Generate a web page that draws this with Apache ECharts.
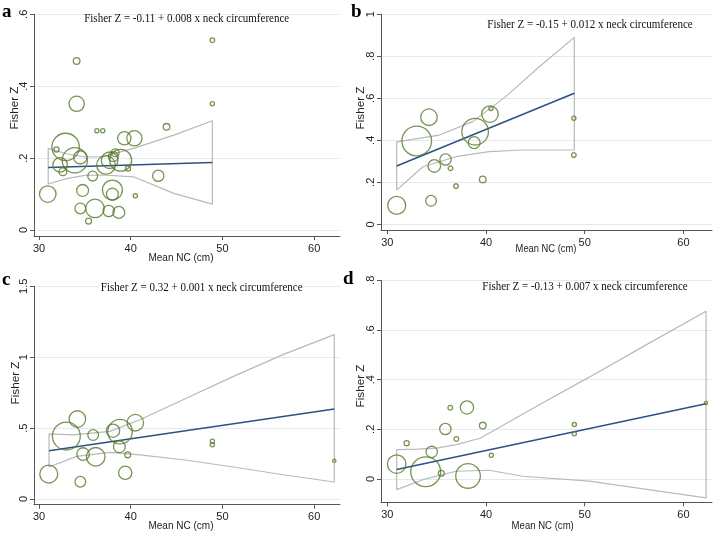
<!DOCTYPE html>
<html lang="en">
<head>
    <meta charset="UTF-8">
    <title>Fisher Z vs mean neck circumference</title>
    <script src="https://cdn.jsdelivr.net/npm/echarts@6/dist/echarts.min.js"></script>
    <style>
        html, body { margin: 0; padding: 0; background: #fff; }
    </style>
</head>
<body>
<div id="container" style="width:716px;height:533px;"></div>
<script>
    // studies: [mean NC, Fisher Z, weight]
    var studiesA = [
        [48.9, 0.528, 5], [48.9, 0.351, 4], [34.1, 0.470, 10], [34.1, 0.351, 53],
        [36.3, 0.276, 4], [36.95, 0.276, 4], [43.9, 0.287, 10], [39.3, 0.255, 40],
        [40.4, 0.255, 53], [31.9, 0.224, 6], [32.9, 0.231, 170], [32.3, 0.181, 48],
        [32.6, 0.162, 14], [33.9, 0.194, 144], [34.5, 0.202, 40], [35.85, 0.150, 22],
        [37.3, 0.181, 78], [37.7, 0.194, 62], [38.1, 0.204, 22], [38.3, 0.215, 14],
        [38.9, 0.194, 109], [39.7, 0.171, 6], [43.0, 0.151, 29], [30.95, 0.100, 62],
        [34.75, 0.110, 32], [38.0, 0.111, 90], [38.0, 0.100, 32], [40.5, 0.095, 4],
        [34.5, 0.060, 26], [36.1, 0.060, 78], [37.6, 0.053, 29], [38.7, 0.049, 32],
        [35.4, 0.025, 8]
    ];
    var studiesB = [
        [34.22, 0.510, 62], [32.98, 0.397, 200], [40.4, 0.525, 62], [40.5, 0.552, 4],
        [38.9, 0.441, 160], [38.8, 0.389, 32], [35.9, 0.309, 29], [34.76, 0.278, 36],
        [36.4, 0.267, 5], [39.67, 0.214, 10], [36.96, 0.182, 5], [34.43, 0.112, 26],
        [30.95, 0.090, 73], [48.9, 0.505, 4], [48.9, 0.330, 5]
    ];
    var studiesC = [
        [34.18, 0.564, 62], [32.98, 0.444, 176], [35.9, 0.451, 26], [38.07, 0.482, 40],
        [38.83, 0.475, 137], [40.5, 0.538, 62], [38.76, 0.369, 32], [34.8, 0.317, 36],
        [36.18, 0.298, 78], [39.67, 0.312, 8], [31.06, 0.176, 73], [34.5, 0.122, 26],
        [39.4, 0.185, 40], [48.9, 0.407, 4], [48.9, 0.383, 4], [62.2, 0.270, 2.5]
    ];
    var studiesD = [
        [38.07, 0.288, 40], [36.38, 0.287, 5], [35.88, 0.201, 29], [39.67, 0.215, 10],
        [36.99, 0.161, 5], [31.96, 0.144, 6], [34.5, 0.109, 29], [30.95, 0.060, 78],
        [33.89, 0.029, 202], [35.47, 0.023, 8], [38.18, 0.012, 137], [40.54, 0.095, 4],
        [48.95, 0.219, 4], [48.95, 0.182, 4], [62.29, 0.306, 2.5]
    ];

    // fitted line end points
    var fitA = [[30.99, 0.174], [48.9, 0.188]];
    var fitB = [[30.95, 0.278], [48.95, 0.624]];
    var fitC = [[31.09, 0.341], [62.2, 0.635]];
    var fitD = [[30.95, 0.038], [62.29, 0.303]];

    // 95% CI limits
    var upperA = [[31, 0.227], [33, 0.212], [35, 0.203], [37, 0.204], [40.3, 0.227], [44.7, 0.264], [48.9, 0.304]];
    var lowerA = [[31, 0.128], [33, 0.143], [35, 0.152], [37, 0.153], [40.3, 0.148], [44.7, 0.102], [48.9, 0.072]];
    var upperB = [[30.95, 0.393], [35.27, 0.425], [38.65, 0.489], [42.0, 0.608], [45.4, 0.750], [48.95, 0.890]];
    var lowerB = [[30.95, 0.163], [33.6, 0.274], [36.96, 0.322], [40.3, 0.346], [43.7, 0.354], [48.95, 0.354]];
    var upperC = [[31.09, 0.460], [33.74, 0.453], [37.74, 0.477], [41.0, 0.559], [45.7, 0.700], [51.2, 0.865], [56.6, 1.018], [62.2, 1.159]];
    var lowerC = [[31.09, 0.226], [34.1, 0.301], [37.74, 0.329], [41.0, 0.312], [45.7, 0.277], [51.2, 0.226], [56.6, 0.171], [62.2, 0.120]];
    var upperD = [[30.95, 0.118], [33, 0.120], [35, 0.124], [37, 0.138], [39.4, 0.164], [45, 0.290], [50.5, 0.411], [56, 0.535], [62.3, 0.675]];
    var lowerD = [[30.95, -0.043], [33.6, -0.003], [36.96, 0.031], [40.33, 0.035], [43.7, 0.011], [50.47, -0.009], [62.3, -0.076]];

    var xTicks = [30, 40, 50, 60];
    var yTicksA = [0, 0.2, 0.4, 0.6];
    var yTicksB = [0, 0.2, 0.4, 0.6, 0.8, 1];
    var yTicksC = [0, 0.5, 1, 1.5];
    var yTicksD = [0, 0.2, 0.4, 0.6, 0.8];

    var equations = [
        'Fisher Z = -0.11 + 0.008 x neck circumference',
        'Fisher Z = -0.15 + 0.012 x neck circumference',
        'Fisher Z = 0.32 + 0.001 x neck circumference',
        'Fisher Z = -0.13 + 0.007 x neck circumference'
    ];
    var panelLetters = ['a', 'b', 'c', 'd'];

    var panels = [
        {studies: studiesA, fit: fitA, up: upperA, lo: lowerA, yTicks: yTicksA, yMin: -0.0167, yMax: 0.6,
            grid: {left: 34, top: 14.3, width: 306, height: 221.7}, xMin: 29.45, xMax: 62.82,
            eq: [186.7, 19], letter: [2, 12], ytitle: [15, 108], xtitle: [181, 257.7], xtScale: 0.91},
        {studies: studiesB, fit: fitB, up: upperB, lo: lowerB, yTicks: yTicksB, yMin: -0.027, yMax: 1,
            grid: {left: 381, top: 14.3, width: 331, height: 215.7}, xMin: 29.36, xMax: 62.9,
            eq: [590, 25], letter: [351, 12], ytitle: [361, 108], xtitle: [546, 249.3], xtScale: 0.85},
        {studies: studiesC, fit: fitC, up: upperC, lo: lowerC, yTicks: yTicksC, yMin: -0.04, yMax: 1.5,
            grid: {left: 34, top: 286.3, width: 306, height: 218.4}, xMin: 29.45, xMax: 62.82,
            eq: [201.7, 288], letter: [2, 280], ytitle: [16, 383], xtitle: [181, 526.3], xtScale: 0.91, eqBg: true},
        {studies: studiesD, fit: fitD, up: upperD, lo: lowerD, yTicks: yTicksD, yMin: -0.094, yMax: 0.8,
            grid: {left: 381, top: 280.3, width: 331, height: 222}, xMin: 29.36, xMax: 62.9,
            eq: [585, 287], letter: [343, 279], ytitle: [361, 386], xtitle: [542.7, 526.3], xtScale: 0.87}
    ];

    function fmtTick(v) {
        return String(v).replace(/^0\./, '.');
    }

    var grids = [], xAxes = [], yAxes = [], series = [], graphics = [];
    var axisColor = '#555';

    panels.forEach(function (p, i) {
        grids.push(p.grid);
        xAxes.push({
            type: 'value', gridIndex: i, min: p.xMin, max: p.xMax,
            axisLine: {onZero: false, lineStyle: {color: axisColor, width: 1}},
            axisTick: {customValues: xTicks, length: 4, lineStyle: {color: axisColor}},
            axisLabel: {customValues: xTicks, fontSize: 11, color: '#222', margin: 7,
                fontFamily: 'Liberation Sans'},
            splitLine: {show: false}
        });
        yAxes.push({
            type: 'value', gridIndex: i, min: p.yMin, max: p.yMax,
            axisLine: {show: true, onZero: false, lineStyle: {color: axisColor, width: 1}},
            axisTick: {show: true, customValues: p.yTicks, length: 4, lineStyle: {color: axisColor}},
            axisLabel: {customValues: p.yTicks, rotate: 90, fontSize: 11, color: '#222', margin: 5,
                fontFamily: 'Liberation Sans', formatter: fmtTick},
            splitLine: {show: true, lineStyle: {color: '#e2eaed', width: 1}}
        });

        // CI band drawn as one closed outline
        var band = p.up.concat(p.lo.slice().reverse());
        band.push(p.up[0]);
        series.push({
            type: 'line', xAxisIndex: i, yAxisIndex: i, data: band,
            symbol: 'none', silent: true, animation: false, z: 2,
            lineStyle: {color: '#b9b9b9', width: 1.2}
        });
        series.push({
            type: 'line', xAxisIndex: i, yAxisIndex: i, data: p.fit,
            symbol: 'none', silent: true, animation: false, z: 3,
            lineStyle: {color: '#2c5283', width: 1.5}
        });
        series.push({
            type: 'scatter', xAxisIndex: i, yAxisIndex: i, data: p.studies,
            symbol: 'circle', animation: false, z: 4,
            symbolSize: function (d) { return Math.sqrt(d[2]) * 2.1; },
            itemStyle: {color: 'rgba(0,0,0,0)', borderColor: '#56792a', borderWidth: 1.3}
        });

        graphics.push({
            type: 'text', x: p.eq[0], y: p.eq[1], scaleX: 0.88, z: 10,
            style: {text: equations[i], fontSize: 12.5, fontFamily: 'Liberation Serif', fill: '#111',
                backgroundColor: p.eqBg ? '#fff' : null, padding: [1, 2],
                align: 'center', verticalAlign: 'middle', textAlign: 'center', textVerticalAlign: 'middle'}
        });
        graphics.push({
            type: 'text', x: p.letter[0], y: p.letter[1],
            style: {text: panelLetters[i], fontSize: 19, fontWeight: 'bold', fontFamily: 'Liberation Serif',
                fill: '#000', align: 'left', verticalAlign: 'middle', textAlign: 'left', textVerticalAlign: 'middle'}
        });
        graphics.push({
            type: 'text', x: p.ytitle[0], y: p.ytitle[1], rotation: Math.PI / 2,
            style: {text: 'Fisher Z', fontSize: 11.7, fontFamily: 'Liberation Sans', fill: '#222',
                align: 'center', verticalAlign: 'middle', textAlign: 'center', textVerticalAlign: 'middle'}
        });
        graphics.push({
            type: 'text', x: p.xtitle[0], y: p.xtitle[1], scaleX: p.xtScale,
            style: {text: 'Mean NC (cm)', fontSize: 11, fontFamily: 'Liberation Sans', fill: '#222',
                align: 'center', verticalAlign: 'middle', textAlign: 'center', textVerticalAlign: 'middle'}
        });
    });

    var myChart = echarts.init(document.getElementById('container'), null, {renderer: 'canvas'});
    myChart.setOption({
        backgroundColor: '#fff',
        animation: false,
        textStyle: {fontFamily: 'Liberation Sans'},
        grid: grids,
        xAxis: xAxes,
        yAxis: yAxes,
        series: series,
        graphic: graphics
    });
</script>
</body>
</html>
